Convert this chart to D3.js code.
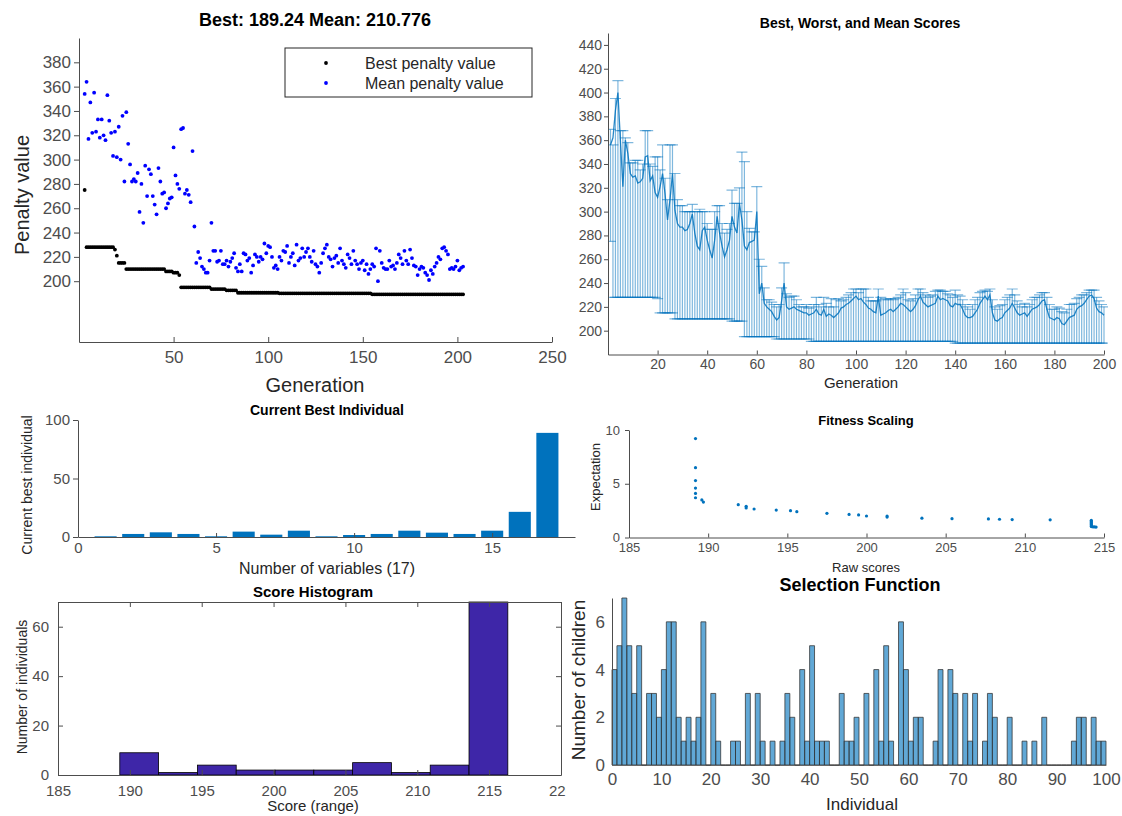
<!DOCTYPE html>
<html>
<head>
<meta charset="utf-8">
<script src="https://cdn.jsdelivr.net/npm/d3@7"></script>
<style>
  body { margin: 0; background: #fff; }
  svg { display: block; font-family: 'Liberation Sans', Arial, Helvetica, sans-serif; }
</style>
</head>
<body>
<svg id="fig" width="1122" height="816"></svg>
<script>
// ---- data ----

// top left: penalty per generation (generations 3..203)
const penaltyGens = d3.range(3, 204);
const bestPenalty = [
  275,
  228, 228, 228, 228, 228, 228, 228, 228, 228, 228, 228, 228, 228, 228, 228,
  226, 221,
  215, 215, 215, 215,
  210, 210, 210, 210, 210, 210, 210, 210, 210, 210, 210, 210, 210, 210, 210, 210, 210, 210, 210, 210, 210,
  208, 208, 208, 208,
  207, 207, 207,
  205,
  195, 195, 195, 195, 195, 195, 195, 195, 195, 195, 195, 195, 195, 195, 195, 195,
  193.5, 193.5, 193.5, 193.5, 193.5, 193.5, 193.5, 193.5,
  192.5, 192.5, 192.5, 192.5, 192.5, 192.5,
  190.5, 190.5, 190.5, 190.5, 190.5, 190.5, 190.5, 190.5, 190.5, 190.5, 190.5,
  190.5, 190.5, 190.5, 190.5, 190.5, 190.5, 190.5, 190.5, 190.5, 190.5, 190.5,
  190, 190, 190, 190, 190, 190, 190, 190, 190, 190, 190, 190, 190, 190, 190, 190, 190,
  190, 190, 190, 190, 190, 190, 190, 190, 190, 190, 190, 190, 190, 190, 190, 190,
  190, 190, 190, 190, 190, 190, 190, 190, 190, 190, 190, 190, 190, 190, 190, 190,
  189.24, 189.24, 189.24, 189.24, 189.24, 189.24, 189.24, 189.24, 189.24, 189.24,
  189.24, 189.24, 189.24, 189.24, 189.24, 189.24, 189.24, 189.24, 189.24, 189.24,
  189.24, 189.24, 189.24, 189.24, 189.24, 189.24, 189.24, 189.24, 189.24, 189.24,
  189.24, 189.24, 189.24, 189.24, 189.24, 189.24, 189.24, 189.24, 189.24, 189.24,
  189.24, 189.24, 189.24, 189.24, 189.24, 189.24, 189.24, 189.24, 189.24,
];
const meanPenalty = [
  354, 364, 317, 347, 322, 355, 323, 333, 318, 333,
  320, 316, 353, 332, 322, 303, 323, 302, 327, 300,
  336, 282, 339, 313, 296, 282, 284, 282, 289, 257,
  280, 248, 295, 270, 292, 288, 270, 263, 255, 293,
  282, 272, 273, 260, 264, 268, 269, 310, 287, 280,
  276, 325, 326, 272, 275, 271, 265, 307, 245, 215,
  224, 219, 212, 210, 207, 207, 217, 248, 225, 225,
  216, 217, 225, 214, 214, 217, 212, 216, 219, 223,
  211, 208, 214, 208, 223, 222, 217, 219, 207, 213,
  222, 220, 216, 220, 218, 231, 223, 229, 228, 220,
  211, 213, 210, 220, 217, 225, 224, 229, 215, 220,
  223, 213, 230, 217, 219, 227, 220, 224, 227, 220,
  216, 225, 214, 212, 207, 215, 223, 227, 230, 220,
  218, 212, 219, 221, 215, 227, 217, 214, 211, 222,
  219, 214, 225, 217, 214, 210, 215, 217, 209, 214,
  206, 210, 214, 212, 227, 200, 225, 215, 211, 210,
  210, 217, 212, 213, 210, 215, 222, 219, 214, 225,
  217, 214, 226, 219, 213, 212, 205, 210, 212, 211,
  207, 205, 201, 209, 206, 212, 215, 220, 218, 227,
  228, 225, 222, 210, 211, 210, 212, 217, 209, 211, 212,
];

// top right: best / mean / worst score per generation (1..200)
const scoreGens = d3.range(1, 201);
const scoreBest = [
  275, 228, 228, 228, 228, 228, 228, 228, 228, 228,
  228, 228, 228, 228, 228, 228, 228, 228, 228, 227,
  215, 215, 215, 215, 215, 215, 210, 210, 210, 210,
  210, 210, 210, 210, 210, 210, 210, 210, 210, 210,
  210, 210, 210, 210, 210, 210, 210, 210, 210, 208,
  208, 208, 208, 208, 195, 195, 195, 195, 195, 195,
  195, 195, 195, 195, 195, 195, 195, 193, 193, 193,
  193, 193, 193, 193, 193, 193, 193, 193, 193, 193,
  193, 191, 191, 191, 191, 191, 191, 191, 191, 191,
  191, 191, 191, 191, 191, 191, 191, 191, 191, 191,
  191, 191, 191, 191, 191, 191, 191, 191, 191, 191,
  191, 191, 191, 191, 191, 191, 191, 191, 191, 191,
  191, 191, 191, 191, 191, 191, 191, 191, 191, 191,
  191, 191, 191, 191, 191, 191, 191, 191, 191, 189.5,
  189.5, 189.5, 189.5, 189.5, 189.5, 189.5, 189.5, 189.5, 189.5, 189.5,
  189.5, 189.5, 189.5, 189.5, 189.5, 189.5, 189.5, 189.5, 189.5, 189.5,
  189.5, 189.5, 189.5, 189.5, 189.5, 189.5, 189.5, 189.5, 189.5, 189.5,
  189.5, 189.5, 189.5, 189.5, 189.5, 189.5, 189.5, 189.5, 189.5, 189.5,
  189.5, 189.5, 189.5, 189.5, 189.5, 189.5, 189.5, 189.5, 189.5, 189.5,
  189.5, 189.5, 189.5, 189.5, 189.5, 189.5, 189.5, 189.5, 189.5, 189.5,
];
const scoreMean = [
  356, 362, 385, 400, 360, 321, 360, 349, 332, 329,
  330, 324, 325, 328, 346, 347, 326, 330, 316, 312,
  321, 332, 315, 293, 310, 332, 301, 290, 287, 287,
  284, 285, 290, 298, 282, 271, 268, 284, 287, 276,
  268, 261, 276, 296, 282, 271, 262, 268, 276, 296,
  287, 282, 307, 293, 271, 268, 274, 275, 276, 300,
  231, 240, 223, 220, 218, 216, 212, 209, 211, 225,
  240, 220, 218, 219, 220, 218, 217, 216, 215, 215,
  213, 214, 215, 218, 214, 213, 218, 212, 214, 213,
  211, 213, 215, 219, 220, 222, 223, 225, 227, 229,
  226, 227, 224, 222, 219, 218, 216, 215, 229, 213,
  214, 215, 217, 218, 216, 218, 220, 223, 222, 220,
  218, 216, 218, 221, 226, 229, 224, 222, 220, 221,
  222, 223, 229, 226, 227, 226, 225, 221, 220, 223,
  222, 222, 218, 213, 211, 211, 212, 215, 218, 223,
  226, 229, 226, 230, 215, 209, 208, 210, 211, 215,
  217, 219, 223, 219, 215, 213, 214, 215, 212, 215,
  218, 219, 220, 222, 225, 226, 218, 211, 210, 209,
  211, 210, 206, 205, 208, 211, 212, 213, 218, 220,
  221, 223, 226, 229, 230, 227, 219, 216, 215, 213,
];
const scoreWorst = [
  369, 356, 395, 410, 368, 368, 362, 358, 341, 341,
  343, 343, 335, 340, 368, 368, 340, 338, 346, 346,
  335, 356, 328, 310, 356, 356, 332, 310, 305, 305,
  300, 300, 300, 306, 300, 300, 302, 300, 300, 290,
  285, 285, 300, 305, 305, 290, 282, 285, 290, 318,
  307, 307, 320, 350, 342, 300, 286, 283, 283, 321,
  260, 254, 236, 226, 226, 224, 222, 220, 222, 236,
  257, 231, 228, 229, 229, 226, 222, 220, 220, 222,
  219, 220, 222, 228, 222, 220, 228, 223, 220, 227,
  220, 226, 227, 225, 226, 228, 230, 232, 235, 235,
  232, 235, 235, 235, 228, 225, 225, 225, 235, 228,
  226, 227, 226, 227, 226, 227, 228, 230, 235, 232,
  226, 225, 227, 230, 235, 235, 232, 230, 228, 229,
  230, 233, 234, 234, 233, 233, 231, 230, 228, 234,
  230, 229, 226, 222, 220, 218, 222, 226, 228, 232,
  233, 234, 233, 235, 226, 220, 218, 221, 222, 226,
  228, 230, 235, 230, 225, 222, 220, 223, 220, 222,
  226, 228, 228, 230, 232, 232, 228, 222, 218, 218,
  220, 219, 216, 215, 218, 222, 222, 223, 227, 228,
  230, 230, 232, 234, 234, 234, 228, 225, 222, 220,
];

// middle left: current best individual
const variables = d3.range(1, 18);
const bestIndividual = [0.6, 2.6, 4, 2.6, 0.6, 4.6, 2, 5.4, 0.6, 1.7, 2.6, 5.4, 3.7, 2.6, 5.4, 21.5, 89];

// middle right: fitness scaling
const rawScores = [
  189.2, 189.2, 189.2, 189.2, 189.2, 189.2, 189.6, 189.7, 191.9, 192.4,
  192.4, 192.9, 194.3, 195.2, 195.6, 197.5, 198.9, 199.5, 200.0, 201.3,
  201.3, 203.5, 205.4, 207.7, 208.4, 209.2, 211.6, 214.2, 214.2, 214.2,
  214.2, 214.2, 214.2, 214.2, 214.3, 214.4, 214.5,
];
const expectation = [
  9.2, 6.5, 5.3, 4.6, 4.1, 3.7, 3.5, 3.3, 3.05, 2.9,
  2.75, 2.65, 2.55, 2.5, 2.4, 2.25, 2.15, 2.1, 2.0, 2.0,
  1.9, 1.8, 1.75, 1.73, 1.7, 1.67, 1.64, 1.6, 1.5, 1.4,
  1.3, 1.2, 1.1, 1.02, 0.99, 0.98, 0.97,
];

// bottom left: score histogram
const histEdges = [189.3, 192.0, 194.7, 197.4, 200.1, 202.8, 205.5, 208.2, 210.9, 213.6, 216.3];
const histCounts = [9, 1, 4, 2, 2, 2, 5, 1, 4, 70];

// bottom right: selection function (children per individual 1..100)
const individuals = d3.range(1, 101);
const children = [
  4, 5, 7, 5, 3, 5, 0, 3, 3, 2,
  4, 6, 6, 2, 1, 2, 1, 2, 6, 0,
  3, 1, 0, 0, 1, 1, 0, 3, 0, 3,
  1, 0, 1, 0, 1, 3, 2, 0, 4, 1,
  5, 1, 1, 1, 0, 0, 3, 1, 1, 2,
  0, 3, 0, 4, 1, 5, 1, 0, 6, 4,
  1, 2, 2, 0, 0, 1, 4, 0, 4, 3,
  0, 3, 1, 3, 0, 1, 3, 2, 0, 0,
  2, 0, 0, 1, 0, 1, 0, 2, 0, 0,
  0, 0, 0, 1, 2, 2, 0, 2, 1, 1,
];

// ---- drawing ----
const AXIS_GREY = '#4d4d4d';
const TEXT_DARK = '#262626';
const MATLAB_BLUE = '#0072bd';
const intFormat = d3.format('d');

const svg = d3.select('#fig');
svg.append('rect').attr('width', 1122).attr('height', 816).attr('fill', '#fff');

const styleAxis = size => g => {
  g.attr('font-family', null).attr('font-size', null);
  g.select('.domain').attr('stroke', AXIS_GREY);
  g.selectAll('.tick line').attr('stroke', AXIS_GREY);
  g.selectAll('.tick text').attr('fill', AXIS_GREY).style('font-size', `${size}px`);
};

// text centred on (x, y)
const label = (g, text, x, y, size, opts = {}) => {
  const t = g.append('text')
    .attr('text-anchor', opts.anchor || 'middle')
    .attr('dy', '0.35em')
    .style('font-size', `${size}px`)
    .style('font-weight', opts.bold ? 'bold' : null)
    .attr('fill', opts.fill || TEXT_DARK)
    .text(text);
  if (opts.rotate) t.attr('transform', `translate(${x},${y}) rotate(-90)`);
  else t.attr('x', x).attr('y', y);
  return t;
};

const bottomAxis = (g, scale, y, opts) => g.append('g')
  .attr('transform', `translate(0,${y})`)
  .call(d3.axisBottom(scale).tickValues(opts.ticks).tickFormat(intFormat)
    .tickSizeInner(opts.tick).tickSizeOuter(0).tickPadding(opts.pad))
  .call(styleAxis(opts.size));

const leftAxis = (g, scale, x, opts) => g.append('g')
  .attr('transform', `translate(${x},0)`)
  .call(d3.axisLeft(scale).tickValues(opts.ticks).tickFormat(intFormat)
    .tickSizeInner(opts.tick).tickSizeOuter(0).tickPadding(opts.pad))
  .call(styleAxis(opts.size));

// 1. penalty value per generation
{
  const g = svg.append('g');
  const x = d3.scaleLinear().domain([0, 250]).range([79, 552]);
  const y = d3.scaleLinear().domain([150, 400]).range([342, 38]);
  bottomAxis(g, x, 342, { ticks: [50, 100, 150, 200, 250], tick: -5, pad: 9, size: 17 });
  leftAxis(g, y, 79, { ticks: d3.range(200, 381, 20), tick: 5, pad: 3, size: 17 });

  g.append('g').selectAll('circle').data(penaltyGens).join('circle')
    .attr('cx', d => x(d)).attr('cy', (d, i) => y(bestPenalty[i])).attr('r', 1.9).attr('fill', '#000');
  g.append('g').selectAll('circle').data(penaltyGens).join('circle')
    .attr('cx', d => x(d)).attr('cy', (d, i) => y(meanPenalty[i])).attr('r', 1.9).attr('fill', '#0000ff');

  label(g, 'Best: 189.24 Mean: 210.776', 315, 20, 18, { bold: true, fill: '#000' });
  label(g, 'Generation', 315, 385, 20);
  label(g, 'Penalty value', 22, 195, 20, { rotate: true });

  const lg = g.append('g');
  lg.append('rect').attr('x', 285).attr('y', 48).attr('width', 247).attr('height', 49)
    .attr('fill', '#fff').attr('stroke', TEXT_DARK).attr('stroke-width', 1);
  [['Best penalty value', '#000', 63], ['Mean penalty value', '#0000ff', 83]].forEach(([name, color, ly]) => {
    lg.append('circle').attr('cx', 326).attr('cy', ly).attr('r', 1.9).attr('fill', color);
    label(lg, name, 365, ly, 16, { anchor: 'start' });
  });
}

// 2. best, worst and mean scores
{
  const g = svg.append('g');
  const x = d3.scaleLinear().domain([0, 200]).range([608, 1104]);
  const y = d3.scaleLinear().domain([180, 450]).range([354.5, 33]);
  svg.append('clipPath').attr('id', 'clip-scores')
    .append('rect').attr('x', 608).attr('y', 33).attr('width', 500).attr('height', 321.5);
  const plot = g.append('g').attr('clip-path', 'url(#clip-scores)');
  const cap = 5.5;

  plot.append('g').selectAll('line').data(scoreGens).join('line')
    .attr('x1', d => x(d)).attr('x2', d => x(d))
    .attr('y1', (d, i) => y(scoreBest[i])).attr('y2', (d, i) => y(scoreWorst[i]))
    .attr('stroke', MATLAB_BLUE).attr('stroke-opacity', 0.5).attr('stroke-width', 1.2);
  [scoreBest, scoreWorst].forEach(vals => {
    plot.append('g').selectAll('line').data(scoreGens).join('line')
      .attr('x1', d => x(d) - cap).attr('x2', d => x(d) + cap)
      .attr('y1', (d, i) => y(vals[i])).attr('y2', (d, i) => y(vals[i]))
      .attr('stroke', MATLAB_BLUE).attr('stroke-opacity', 0.5).attr('stroke-width', 1.2);
  });
  plot.append('path')
    .attr('d', d3.line().x(d => x(d)).y((d, i) => y(scoreMean[i]))(scoreGens))
    .attr('fill', 'none').attr('stroke', MATLAB_BLUE).attr('stroke-opacity', 0.85).attr('stroke-width', 1.3);

  bottomAxis(g, x, 354.5, { ticks: d3.range(20, 201, 20), tick: -4, pad: 5, size: 14 });
  leftAxis(g, y, 608, { ticks: d3.range(200, 441, 20), tick: 4, pad: 2, size: 14 });

  label(g, 'Best, Worst, and Mean Scores', 860, 23, 14, { bold: true, fill: '#000' });
  label(g, 'Generation', 861, 383, 15);
}

// 3. current best individual
{
  const g = svg.append('g');
  const x = d3.scaleLinear().domain([0, 18]).range([78, 575]);
  const y = d3.scaleLinear().domain([0, 100]).range([537, 420]);
  g.append('g').selectAll('rect').data(variables).join('rect')
    .attr('x', d => x(d - 0.4)).attr('width', x(0.8) - x(0))
    .attr('y', (d, i) => y(bestIndividual[i])).attr('height', (d, i) => y(0) - y(bestIndividual[i]))
    .attr('fill', MATLAB_BLUE);
  bottomAxis(g, x, 537, { ticks: [0, 5, 10, 15], tick: -4, pad: 5, size: 15 });
  leftAxis(g, y, 78, { ticks: [0, 50, 100], tick: 5, pad: 3, size: 15 });

  label(g, 'Current Best Individual', 327, 410, 14, { bold: true, fill: '#000' });
  label(g, 'Number of variables (17)', 327, 568, 16);
  label(g, 'Current best individual', 27, 485, 14, { rotate: true });
}

// 4. fitness scaling
{
  const g = svg.append('g');
  const x = d3.scaleLinear().domain([185, 215]).range([629, 1104]);
  const y = d3.scaleLinear().domain([0, 10]).range([537.5, 430]);
  bottomAxis(g, x, 537.5, { ticks: d3.range(185, 216, 5), tick: -4, pad: 5, size: 13 });
  leftAxis(g, y, 629, { ticks: [0, 5, 10], tick: 4, pad: 5, size: 13 });
  g.append('g').selectAll('circle').data(rawScores).join('circle')
    .attr('cx', d => x(d)).attr('cy', (d, i) => y(expectation[i])).attr('r', 1.6).attr('fill', MATLAB_BLUE);

  label(g, 'Fitness Scaling', 866, 420, 13, { bold: true, fill: '#000' });
  label(g, 'Raw scores', 866, 567, 13);
  label(g, 'Expectation', 595, 477, 13, { rotate: true });
}

// 5. score histogram
{
  svg.append('clipPath').attr('id', 'clip-hist')
    .append('rect').attr('x', 0).attr('y', 570).attr('width', 566).attr('height', 246);
  const g = svg.append('g').attr('clip-path', 'url(#clip-hist)');
  const x = d3.scaleLinear().domain([185, 220]).range([58, 561]);
  const y = d3.scaleLinear().domain([0, 70]).range([775, 602]);
  g.append('g').selectAll('rect').data(histCounts).join('rect')
    .attr('x', (d, i) => x(histEdges[i])).attr('width', (d, i) => x(histEdges[i + 1]) - x(histEdges[i]))
    .attr('y', d => y(d)).attr('height', d => y(0) - y(d))
    .attr('fill', '#3e26a8').attr('stroke', '#000').attr('stroke-width', 0.8);

  const xt = d3.range(185, 221, 5);
  const yt = [0, 20, 40, 60];
  bottomAxis(g, x, 775, { ticks: xt, tick: -5, pad: 10, size: 15 });
  leftAxis(g, y, 58, { ticks: yt, tick: -5, pad: 9, size: 15 });
  g.append('g').attr('transform', 'translate(0,602)')
    .call(d3.axisTop(x).tickValues(xt).tickSizeInner(-5).tickSizeOuter(0).tickFormat(''))
    .call(styleAxis(15));
  g.append('g').attr('transform', 'translate(561,0)')
    .call(d3.axisRight(y).tickValues(yt).tickSizeInner(-5).tickSizeOuter(0).tickFormat(''))
    .call(styleAxis(15));

  label(g, 'Score Histogram', 313, 592, 15, { bold: true, fill: '#000' });
  label(g, 'Score (range)', 313, 806, 15);
  label(g, 'Number of individuals', 22, 687, 14, { rotate: true });
}

// 6. selection function
{
  const g = svg.append('g');
  const x = d3.scaleLinear().domain([0, 100]).range([612, 1106]);
  const y = d3.scaleLinear().domain([0, 7]).range([765, 598]);
  bottomAxis(g, x, 765, { ticks: d3.range(0, 101, 10), tick: 0, pad: 8, size: 17 });
  g.select('.domain').attr('stroke', '#888');
  g.append('g').selectAll('path').data(individuals).join('path')
    .attr('d', (d, i) => `M${x(d - 1)},${y(0)}V${y(children[i])}H${x(d)}V${y(0)}Z`)
    .attr('fill', MATLAB_BLUE).attr('fill-opacity', 0.62)
    .attr('stroke', '#333').attr('stroke-width', 0.9).attr('stroke-opacity', 0.85);
  leftAxis(g, y, 612, { ticks: [0, 2, 4, 6], tick: 0, pad: 7, size: 17 });

  label(g, 'Selection Function', 860, 585, 18, { bold: true, fill: '#000' });
  label(g, 'Individual', 862, 804, 17);
  label(g, 'Number of children', 578, 680, 19, { rotate: true });
}
</script>
</body>
</html>
